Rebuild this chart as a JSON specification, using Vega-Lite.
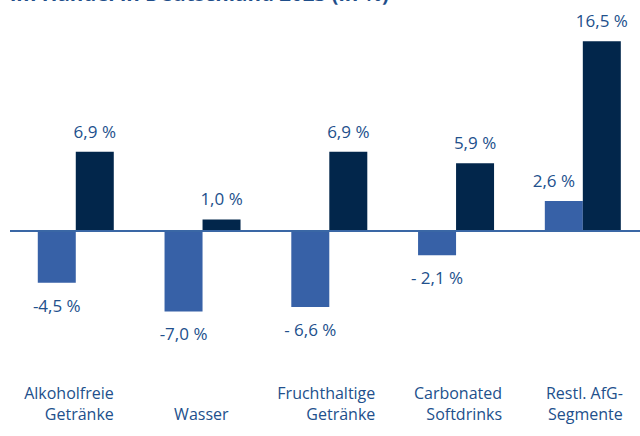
{
  "$schema": "https://vega.github.io/schema/vega-lite/v6.json",
  "autosize": {"type": "none"},
  "padding": {"left": 10, "top": 10, "right": 0, "bottom": 66},
  "width": 630,
  "height": 360,
  "background": "white",
  "title": {
    "text": "im Handel in Deutschland 2023 (in %)",
    "anchor": "start",
    "frame": "group",
    "baseline": "alphabetic",
    "offset": 0,
    "dy": 11,
    "font": "Open Sans",
    "fontSize": 20.5,
    "fontWeight": "bold",
    "color": "#1f4e8a"
  },
  "config": {"view": {"stroke": null}, "font": "Open Sans"},
  "data": {
    "values": [
      {"category": "Alkoholfreie Getränke", "series": "Absatz", "value": -4.5, "label": "-4,5 %"},
      {"category": "Alkoholfreie Getränke", "series": "Umsatz", "value": 6.9, "label": "6,9 %"},
      {"category": "Wasser", "series": "Absatz", "value": -7.0, "label": "-7,0 %"},
      {"category": "Wasser", "series": "Umsatz", "value": 1.0, "label": "1,0 %"},
      {"category": "Fruchthaltige Getränke", "series": "Absatz", "value": -6.6, "label": "- 6,6 %"},
      {"category": "Fruchthaltige Getränke", "series": "Umsatz", "value": 6.9, "label": "6,9 %"},
      {"category": "Carbonated Softdrinks", "series": "Absatz", "value": -2.1, "label": "- 2,1 %"},
      {"category": "Carbonated Softdrinks", "series": "Umsatz", "value": 5.9, "label": "5,9 %"},
      {"category": "Restl. AfG-Segmente", "series": "Absatz", "value": 2.6, "label": "2,6 %"},
      {"category": "Restl. AfG-Segmente", "series": "Umsatz", "value": 16.5, "label": "16,5 %"}
    ]
  },
  "layer": [
    {
      "mark": {"type": "bar"},
      "encoding": {
        "x": {
          "field": "category",
          "type": "nominal",
          "sort": null,
          "scale": {"range": [2.4, 636.2], "paddingInner": 0, "paddingOuter": 0},
          "axis": {
            "title": null,
            "domain": false,
            "ticks": false,
            "tickSize": 0,
            "labelAngle": 0,
            "labelFont": "Open Sans",
            "labelFontSize": 16,
            "labelColor": "#22508c",
            "labelAlign": "right",
            "labelBaseline": "alphabetic",
            "labelPadding": 28,
            "labelLineHeight": 21,
            "labelLimit": 0,
            "labelOverlap": false,
            "labelExpr": "datum.value == 'Restl. AfG-Segmente' ? ['Restl. AfG-', 'Segmente'] : datum.value == 'Wasser' ? ['', 'Wasser'] : split(datum.value, ' ')",
            "labelOffset": {
              "condition": [
                {"test": "datum.value == 'Wasser'", "value": 26},
                {"test": "datum.value == 'Alkoholfreie Getränke'", "value": 38},
                {"test": "datum.value == 'Restl. AfG-Segmente'", "value": 40}
              ],
              "value": 46
            }
          }
        },
        "xOffset": {
          "field": "series",
          "type": "nominal",
          "sort": ["Absatz", "Umsatz"],
          "scale": {"paddingInner": 0, "paddingOuter": 0.668}
        },
        "y": {
          "field": "value",
          "type": "quantitative",
          "scale": {"domain": [-12.087, 19.217], "nice": false, "zero": false},
          "axis": null
        },
        "y2": {"datum": 0},
        "color": {
          "field": "series",
          "type": "nominal",
          "scale": {"domain": ["Absatz", "Umsatz"], "range": ["#3761a7", "#02264b"]},
          "legend": null
        }
      }
    },
    {
      "data": {"values": [{}]},
      "mark": {"type": "rule", "color": "#3a67a5", "strokeWidth": 2},
      "encoding": {"y": {"datum": 0}}
    },
    {
      "transform": [{"filter": "datum.value >= 0 && datum.series == 'Umsatz'"}],
      "mark": {"type": "text", "baseline": "alphabetic", "dy": -14, "font": "Open Sans", "fontSize": 17, "color": "#22508c"},
      "encoding": {
        "x": {"field": "category", "type": "nominal", "sort": null},
        "xOffset": {"field": "series", "type": "nominal", "sort": ["Absatz", "Umsatz"]},
        "y": {"field": "value", "type": "quantitative"},
        "text": {"field": "label"}
      }
    },
    {
      "transform": [{"filter": "datum.value >= 0 && datum.series == 'Absatz'"}],
      "mark": {"type": "text", "baseline": "alphabetic", "dy": -14, "dx": -10, "font": "Open Sans", "fontSize": 17, "color": "#22508c"},
      "encoding": {
        "x": {"field": "category", "type": "nominal", "sort": null},
        "xOffset": {"field": "series", "type": "nominal", "sort": ["Absatz", "Umsatz"]},
        "y": {"field": "value", "type": "quantitative"},
        "text": {"field": "label"}
      }
    },
    {
      "transform": [{"filter": "datum.value < 0"}],
      "mark": {"type": "text", "baseline": "alphabetic", "dy": 29, "font": "Open Sans", "fontSize": 17, "color": "#22508c"},
      "encoding": {
        "x": {"field": "category", "type": "nominal", "sort": null},
        "xOffset": {"field": "series", "type": "nominal", "sort": ["Absatz", "Umsatz"]},
        "y": {"field": "value", "type": "quantitative"},
        "text": {"field": "label"}
      }
    }
  ]
}
